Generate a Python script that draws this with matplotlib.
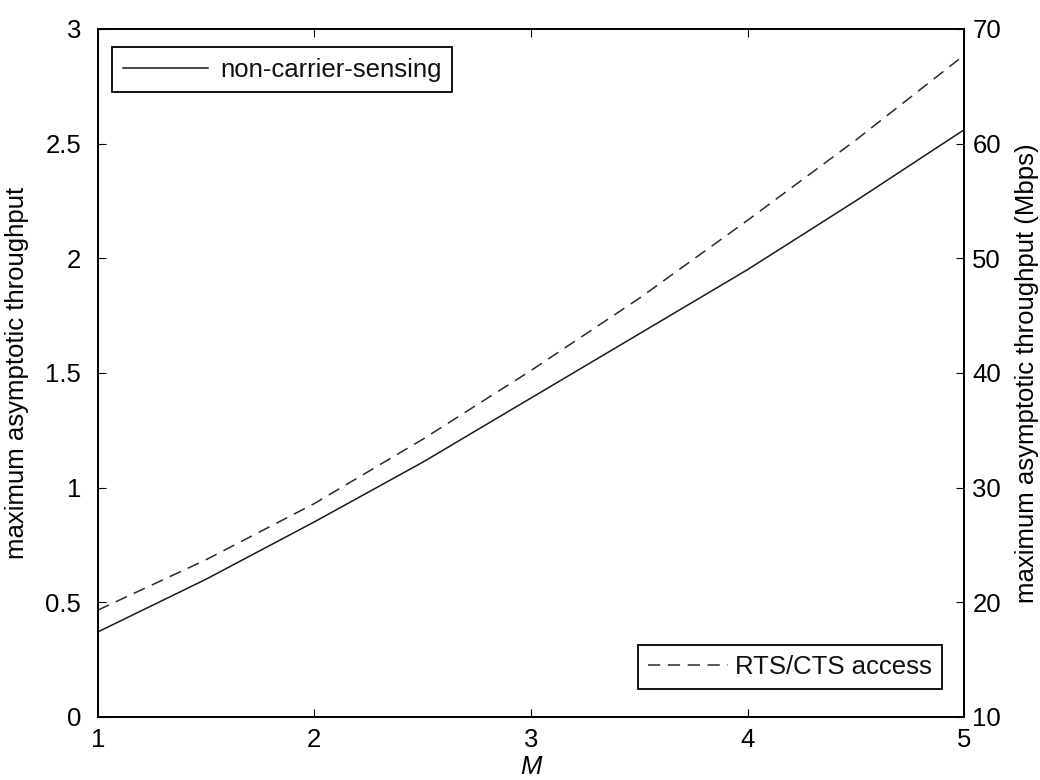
import matplotlib
matplotlib.use("Agg")
import matplotlib.pyplot as plt

# values
M = [1, 1.5, 2, 2.5, 3, 3.5, 4, 4.5, 5]
non_cs = [0.37, 0.60, 0.85, 1.11, 1.39, 1.67, 1.95, 2.25, 2.56]      # left axis
rts_cts = [19.3, 23.7, 28.6, 34.2, 40.2, 46.5, 53.3, 60.3, 67.7]    # right axis, Mbps

LEFT_TICKS = [0, 0.5, 1, 1.5, 2, 2.5, 3]
RIGHT_TICKS = [10, 20, 30, 40, 50, 60, 70]
X_TICKS = [1, 2, 3, 4, 5]

plt.rcParams.update({
    "font.family": ["Liberation Sans", "DejaVu Sans"],
    "font.size": 18.5,
    "axes.linewidth": 1.3,
    "xtick.direction": "in",
    "ytick.direction": "in",
    "xtick.major.size": 6,
    "ytick.major.size": 6,
    "text.color": "#111111",
})

fig = plt.figure(figsize=(10.4, 7.8), dpi=100)
fig.subplots_adjust(left=0.094, right=0.927, bottom=0.081, top=0.963)
ax = fig.add_subplot(111)
ax2 = ax.twinx()

l1, = ax.plot(M, non_cs, color="#1a1a1a", lw=1.1, label="non-carrier-sensing")
l2, = ax2.plot(M, rts_cts, color="#2a2a2a", lw=1.1, ls=(0, (8, 5)), label="RTS/CTS access")

ax.set_xlim(1, 5)
ax.set_ylim(0, 3)
ax2.set_ylim(10, 70)
ax.set_xticks(X_TICKS)
ax.set_yticks(LEFT_TICKS)
ax.set_yticklabels(["0", "0.5", "1", "1.5", "2", "2.5", "3"])
ax2.set_yticks(RIGHT_TICKS)
ax.tick_params(axis="x", top=True, pad=8)
ax.tick_params(axis="y", pad=12)
ax2.tick_params(axis="y", pad=6)

ax.set_xlabel("M", style="italic", labelpad=2)
ax.set_ylabel("maximum asymptotic throughput", labelpad=12)
ax2.set_ylabel("maximum asymptotic throughput (Mbps)", labelpad=10)

leg1 = ax.legend(handles=[l1], loc="upper left", bbox_to_anchor=(0.017, 0.973),
                 borderaxespad=0, fancybox=False, edgecolor="black", framealpha=1,
                 handlelength=3.3, handletextpad=0.5, borderpad=0.4)
leg1.get_frame().set_linewidth(1.3)
leg2 = ax2.legend(handles=[l2], loc="lower right", bbox_to_anchor=(0.975, 0.04),
                  borderaxespad=0, fancybox=False, edgecolor="black", framealpha=1,
                  handlelength=3.1, handletextpad=0.3, borderpad=0.4)
leg2.get_frame().set_linewidth(1.3)

fig.savefig("out.png", dpi=100)
